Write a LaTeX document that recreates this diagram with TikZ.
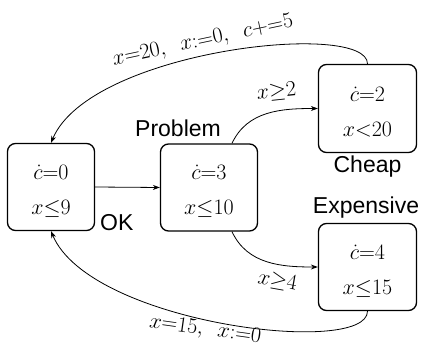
\documentclass[tikz,border=0pt]{standalone}
\usepackage{fix-cm}
\usepackage{fontspec}
\newfontfamily\labfont{Liberation Sans}
\usetikzlibrary{arrows.meta}
\newcommand{\topstrut}{\rule{0pt}{22pt}}
\begin{document}
\begin{tikzpicture}[x=1pt,y=-1pt,
  state/.style={draw, line width=1.3pt, rounded corners=8pt, inner sep=0pt, align=center,
    font=\fontsize{22}{35}\selectfont},
  statename/.style={font=\labfont\fontsize{23}{26}\selectfont, inner sep=0pt},
  elab/.style={font=\fontsize{22}{26}\selectfont, inner sep=0pt, anchor=base},
  edge/.style={line width=0.8pt, -{Stealth[length=7pt,width=5pt]}}]
\useasboundingbox (0,0) rectangle (423,355);
\node[state, minimum width=87pt, minimum height=87pt] (ok) at (51,187) {\topstrut$\dot{c}{=}0$\\$x{\leq}9$};
\node[state, minimum width=97pt, minimum height=87pt] (prob) at (209,187.5) {\topstrut$\dot{c}{=}3$\\$x{\leq}10$};
\node[state, minimum width=98pt, minimum height=88pt] (cheap) at (367.5,108.5) {\topstrut$\dot{c}{=}2$\\$x{<}20$};
\node[state, minimum width=98pt, minimum height=87pt] (exp) at (367.5,267) {\topstrut$\dot{c}{=}4$\\$x{\leq}15$};

\node[statename, anchor=base west] (okname) at (100,231) {OK};
\node[statename, anchor=base west] (probname) at (135,137) {Problem};
\node[statename, anchor=base] (cheapname) at (367.5,173) {Cheap};
\node[statename, anchor=base] (expname) at (366,214) {Expensive};

\draw[edge] (ok.east) -- (prob.west);
\draw[edge] ([xshift=23pt]prob.north) to[out=65,in=180] (cheap.west);
\draw[edge] ([xshift=23pt]prob.south) to[out=-65,in=180] (exp.west);
\draw[edge] (cheap.north) .. controls +(0,-44) and +(39,-93) .. (ok.north);
\draw[edge] (exp.south) .. controls +(0,46) and +(39,93) .. (ok.south);

\node[elab, rotate=12] (ltop) at (204,46) {$x{=}20,\enskip x{:=}0,\enskip c{+}{=}5$};
\node[elab, rotate=6] (lcheap) at (277,97.5) {$x{\geq}2$};
\node[elab, rotate=-10] (lexp) at (276.5,287) {$x{\geq}4$};
\node[elab, rotate=-8] (lbot) at (204.5,335) {$x{=}15,\enskip x{:=}0$};
\end{tikzpicture}
\end{document}
